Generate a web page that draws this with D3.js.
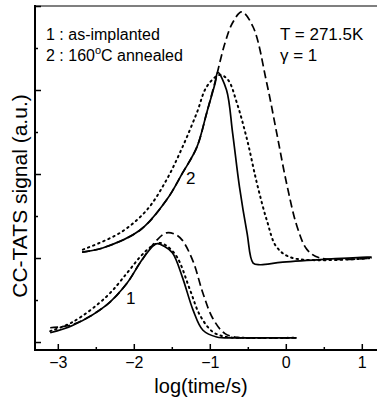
<!DOCTYPE html>
<html>
<head>
<meta charset="utf-8">
<script src="https://cdn.jsdelivr.net/npm/d3@7"></script>
<style>
  body { margin: 0; background: #fff; }
  text { font-family: "Liberation Sans", Arial, sans-serif; fill: #000; }
</style>
</head>
<body>
<div id="root"></div>
<script>
// ---- data (log(time/s), signal a.u.) ----
const solid1X  = [-3.10, -2.80, -2.36, -2.09, -1.92, -1.80, -1.70, -1.60, -1.49, -1.36, -1.22, -1.09, -0.91, -0.60, 0.14];
const solid1Y  = [0.11, 0.20, 0.44, 0.70, 0.94, 1.09, 1.17, 1.14, 1.06, 0.77, 0.38, 0.14, 0.06, 0.05, 0.05];
const dotted1X = [-3.10, -2.80, -2.36, -2.09, -1.92, -1.78, -1.66, -1.56, -1.43, -1.26, -1.13, -0.96, -0.78, -0.55, 0.14];
const dotted1Y = [0.13, 0.24, 0.54, 0.82, 1.01, 1.13, 1.18, 1.14, 1.01, 0.62, 0.32, 0.12, 0.06, 0.05, 0.05];
const dashed1X = [-3.10, -2.80, -2.36, -2.09, -1.92, -1.70, -1.57, -1.45, -1.36, -1.22, -1.09, -0.96, -0.80, -0.60, -0.40, 0.14];
const dashed1Y = [0.17, 0.21, 0.44, 0.70, 0.94, 1.21, 1.30, 1.28, 1.21, 0.96, 0.58, 0.28, 0.10, 0.05, 0.05, 0.05];

const solid2X  = [-2.68, -2.41, -1.92, -1.57, -1.36, -1.17, -1.04, -0.93, -0.895, -0.78, -0.70, -0.61, -0.51, -0.43, -0.34, -0.04, 1.07, 1.13];
const solid2Y  = [1.07, 1.12, 1.33, 1.69, 2.01, 2.32, 2.73, 3.08, 3.21, 3.00, 2.49, 1.85, 1.30, 0.94, 0.92, 0.95, 1.01, 1.01];
const dotted2X = [-2.67, -2.18, -1.83, -1.57, -1.36, -1.17, -1.04, -0.87, -0.76, -0.645, -0.51, -0.38, -0.25, -0.12, 0.09, 1.13];
const dotted2Y = [1.10, 1.30, 1.57, 1.93, 2.32, 2.73, 3.04, 3.18, 3.12, 2.85, 2.41, 1.89, 1.45, 1.13, 1.0, 1.0];
const dashed2X = [-2.68, -2.41, -1.92, -1.57, -1.36, -1.17, -1.04, -0.93, -0.80, -0.70, -0.58, -0.43, -0.25, -0.12, 0.01, 0.15, 0.28, 0.45, 1.13];
const dashed2Y = [1.07, 1.12, 1.33, 1.69, 2.01, 2.32, 2.73, 3.10, 3.56, 3.80, 3.93, 3.75, 3.08, 2.49, 1.89, 1.37, 1.10, 1.0, 1.0];

const xMajor = [-3, -2, -1, 0, 1];
const xMinor = [-2.5, -1.5, -0.5, 0.5];
const yMajor = [0, 1, 2, 3, 4];
const yMinor = [0.5, 1.5, 2.5, 3.5];

const width = 377;
const height = 400;

const svg = d3.select("#root")
  .append("svg")
    .attr("width", width)
    .attr("height", height);

const x = d3.scaleLinear().domain([-3.30, 1.20]).range([35, 377]);
const y = d3.scaleLinear().domain([-0.095, 4]).range([350, 6]);

const zip = (xs, ys) => xs.map((v, i) => [v, ys[i]]);
const lineCreator = d3.line()
  .x(d => x(d[0]))
  .y(d => y(d[1]))
  .curve(d3.curveCatmullRom.alpha(0.5));

const series = [
  { pts: zip(solid1X, solid1Y), dash: null },
  { pts: zip(dotted1X, dotted1Y), dash: "1.5 4" },
  { pts: zip(dashed1X, dashed1Y), dash: "8 4" },
  { pts: zip(solid2X, solid2Y), dash: null },
  { pts: zip(dotted2X, dotted2Y), dash: "1.5 4" },
  { pts: zip(dashed2X, dashed2Y), dash: "8 4" }
];

const isDot = d => d.dash && d.dash.startsWith("1.5");

svg.selectAll("path.curve")
  .data(series)
  .enter()
  .append("path")
    .attr("class", "curve")
    .attr("d", d => lineCreator(d.pts))
    .attr("fill", "none")
    .attr("stroke", "#000")
    .attr("stroke-width", d => isDot(d) ? 2 : 1.7)
    .attr("stroke-linecap", d => isDot(d) ? "round" : "butt")
    .attr("stroke-dasharray", d => d.dash);

// axes, ticks pointing inward
const styleAxis = g => {
  g.select(".domain").remove();
  g.selectAll(".tick line").attr("stroke", "#000").attr("stroke-width", 1.5);
  g.selectAll(".tick text").style("font-size", "16px").style("font-family", "Liberation Sans, Arial, sans-serif");
};

svg.append("g")
    .attr("transform", "translate(0,350)")
    .call(d3.axisBottom(x).tickValues(xMajor).tickSize(-6).tickPadding(7).tickFormat(d3.format("d")))
    .call(styleAxis);
svg.append("g")
    .attr("transform", "translate(0,350)")
    .call(d3.axisBottom(x).tickValues(xMinor).tickSize(-3).tickFormat(""))
    .call(styleAxis);
svg.append("g")
    .attr("transform", "translate(35,0)")
    .call(d3.axisLeft(y).tickValues(yMajor).tickSize(-6).tickFormat(""))
    .call(styleAxis);
svg.append("g")
    .attr("transform", "translate(35,0)")
    .call(d3.axisLeft(y).tickValues(yMinor).tickSize(-3).tickFormat(""))
    .call(styleAxis);

// frame
svg.append("line").attr("x1", 35).attr("x2", 377).attr("y1", 350).attr("y2", 350)
  .attr("stroke", "#000").attr("stroke-width", 2);
svg.append("line").attr("x1", 35).attr("x2", 35).attr("y1", 5).attr("y2", 351)
  .attr("stroke", "#000").attr("stroke-width", 2);
svg.append("line").attr("x1", 35).attr("x2", 377).attr("y1", 6).attr("y2", 6)
  .attr("stroke", "#000").attr("stroke-width", 1.2);

// titles
svg.append("text")
    .text("log(time/s)")
    .attr("x", 201).attr("y", 393)
    .attr("text-anchor", "middle")
    .style("font-size", "20px");
svg.append("text")
    .text("CC-TATS signal (a.u.)")
    .attr("transform", "translate(27,196)rotate(-90)")
    .attr("text-anchor", "middle")
    .style("font-size", "21px");

// legend & annotations
svg.append("text").text("1 : as-implanted")
    .attr("x", 46).attr("y", 40).style("font-size", "16px");
const l2 = svg.append("text").attr("x", 46).attr("y", 61).style("font-size", "16px");
l2.append("tspan").text("2 : 160");
l2.append("tspan").text("o").attr("dy", -7).style("font-size", "11px");
l2.append("tspan").text("C annealed").attr("dy", 7);

svg.append("text").text("T = 271.5K")
    .attr("x", 280).attr("y", 40).style("font-size", "17px");
svg.append("text").text("\u03b3 = 1")
    .attr("x", 280).attr("y", 61).style("font-size", "17px");

svg.append("text").text("1").attr("x", 126).attr("y", 304).style("font-size", "17px");
svg.append("text").text("2").attr("x", 186).attr("y", 184).style("font-size", "17px");
</script>
</body>
</html>
